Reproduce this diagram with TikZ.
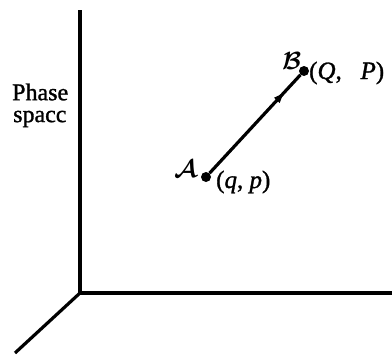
\documentclass[tikz,border=0pt]{standalone}
\usepackage{bm}
\usepackage{fontspec}
\setmainfont{Liberation Serif}
\newfontfamily\lblfont[FakeBold=1.2]{Liberation Serif}
\usetikzlibrary{decorations.markings,arrows.meta}
\begin{document}
\begin{tikzpicture}[x=1pt,y=-1pt,
  axis/.style={line width=3.2pt},
  dot/.style={circle,fill=black,inner sep=0pt,minimum size=10pt},
  lbl/.style={font=\lblfont\fontsize{25}{27}\selectfont,inner sep=0pt},
  traj/.style={line width=3.2pt,postaction={decorate},
    decoration={markings,mark=at position 0.84 with {\arrow{Latex[length=13pt,width=8pt]}}}}]
\useasboundingbox (0,0) rectangle (392,356);
\coordinate (O) at (80,293);
\coordinate (top) at (80,10);
\coordinate (right) at (392,293);
\coordinate (diag) at (15,353);
\draw[axis] (top) -- (O) -- (right);
\draw[axis] (O) -- (diag);
\node[dot] (A) at (206,177) {};
\node[dot] (B) at (304,71) {};
\draw[traj] (A) -- (B);
\node[lbl,anchor=west] (Alab) at (174,169) {$\bm{\mathcal{A}}$};
\node[lbl,anchor=west] (qp) at (216,182) {(\textit{q}, \textit{p})};
\node[lbl,anchor=west] (Blab) at (282,61) {$\bm{\mathcal{B}}$};
\node[lbl,anchor=west] (QP) at (309,73) {(\textit{Q},\hspace{0.75em}\textit{P})};
\node[lbl,anchor=west,font=\lblfont\fontsize{24}{26}\selectfont] (ph) at (12,92) {Phase};
\node[lbl,anchor=west,font=\lblfont\fontsize{24}{26}\selectfont] (sp) at (13,119) {spacc};
\end{tikzpicture}
\end{document}
